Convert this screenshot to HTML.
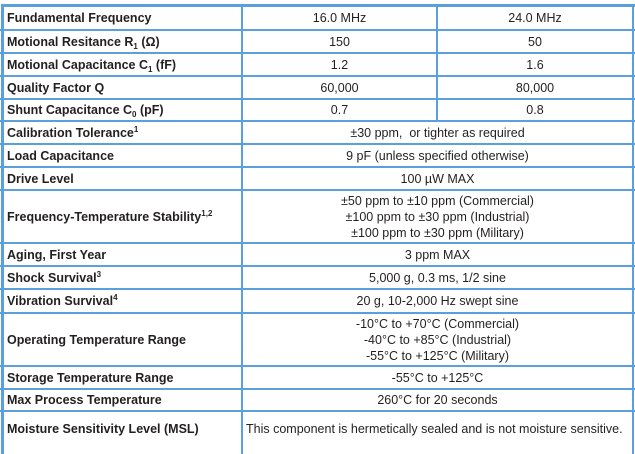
<!DOCTYPE html>
<html><head><meta charset="utf-8"><style>
body{margin:0;width:635px;height:446px;background:#fff;overflow:hidden;position:relative;font-family:"Liberation Sans",Arial,sans-serif;color:#231f20}
.h{position:absolute;left:0;width:635px;height:1px;background:#5aa0dc}
.v{position:absolute;top:4px;height:450px;width:2px;background:#5aa0dc}
.c{position:absolute;display:flex;align-items:center;font-size:12.5px;line-height:16px}
.l{left:7px;width:232px;font-weight:bold}
.m{justify-content:center;text-align:center}
sup{font-size:8px;vertical-align:5px;line-height:0}
sub{font-size:8px;vertical-align:-3px;line-height:0}
</style></head><body>
<div class="h" style="top:4px;height:3px;left:1px;width:634px"></div>
<div class="v" style="left:1px;width:3px"></div>
<div class="v" style="left:241px"></div>
<div class="v" style="left:436px;height:117px"></div>
<div class="v" style="left:632px"></div>
<div class="h" style="top:29px;height:2px"></div>
<div class="h" style="top:52px;height:2px"></div>
<div class="h" style="top:75px;height:2px"></div>
<div class="h" style="top:98px;height:2px"></div>
<div class="h" style="top:120px;height:2px"></div>
<div class="h" style="top:143px;height:2px"></div>
<div class="h" style="top:166px;height:2px"></div>
<div class="h" style="top:189px;height:2px"></div>
<div class="h" style="top:242px;height:2px"></div>
<div class="h" style="top:265px;height:2px"></div>
<div class="h" style="top:288px;height:2px"></div>
<div class="h" style="top:312px;height:2px"></div>
<div class="h" style="top:365px;height:2px"></div>
<div class="h" style="top:388px;height:2px"></div>
<div class="h" style="top:410px;height:2px"></div>

<div class="c l" style="top:7px;height:22px"><span>Fundamental Frequency</span></div>
<div class="c m" style="left:243px;width:193px;top:7px;height:22px">16.0 MHz</div>
<div class="c m" style="left:438px;width:194px;top:7px;height:22px">24.0 MHz</div>

<div class="c l" style="top:31px;height:21px"><span>Motional Resitance R<sub>1</sub> (Ω)</span></div>
<div class="c m" style="left:243px;width:193px;top:31px;height:21px">150</div>
<div class="c m" style="left:438px;width:194px;top:31px;height:21px">50</div>

<div class="c l" style="top:54px;height:21px"><span>Motional Capacitance C<sub>1</sub> (fF)</span></div>
<div class="c m" style="left:243px;width:193px;top:54px;height:21px">1.2</div>
<div class="c m" style="left:438px;width:194px;top:54px;height:21px">1.6</div>

<div class="c l" style="top:77px;height:21px"><span>Quality Factor Q</span></div>
<div class="c m" style="left:243px;width:193px;top:77px;height:21px">60,000</div>
<div class="c m" style="left:438px;width:194px;top:77px;height:21px">80,000</div>

<div class="c l" style="top:100px;height:20px"><span>Shunt Capacitance C<sub>0</sub> (pF)</span></div>
<div class="c m" style="left:243px;width:193px;top:100px;height:20px">0.7</div>
<div class="c m" style="left:438px;width:194px;top:100px;height:20px">0.8</div>

<div class="c l" style="top:122px;height:21px"><span>Calibration Tolerance<sup>1</sup></span></div>
<div class="c m" style="left:243px;width:389px;top:122px;height:21px">±30 ppm,&nbsp; or tighter as required</div>

<div class="c l" style="top:145px;height:21px"><span>Load Capacitance</span></div>
<div class="c m" style="left:243px;width:389px;top:145px;height:21px">9 pF (unless specified otherwise)</div>

<div class="c l" style="top:168px;height:21px"><span>Drive Level</span></div>
<div class="c m" style="left:243px;width:389px;top:168px;height:21px">100 µW MAX</div>

<div class="c l" style="top:191px;height:51px"><span>Frequency-Temperature Stability<sup>1,2</sup></span></div>
<div class="c m" style="left:243px;width:389px;top:191px;height:51px"><span>±50 ppm to ±10 ppm (Commercial)<br>±100 ppm to ±30 ppm (Industrial)<br>±100 ppm to ±30 ppm (Military)</span></div>

<div class="c l" style="top:244px;height:21px"><span>Aging, First Year</span></div>
<div class="c m" style="left:243px;width:389px;top:244px;height:21px">3 ppm MAX</div>

<div class="c l" style="top:267px;height:21px"><span>Shock Survival<sup>3</sup></span></div>
<div class="c m" style="left:243px;width:389px;top:267px;height:21px">5,000 g, 0.3 ms, 1/2 sine</div>

<div class="c l" style="top:290px;height:22px"><span>Vibration Survival<sup>4</sup></span></div>
<div class="c m" style="left:243px;width:389px;top:290px;height:22px">20 g, 10-2,000 Hz swept sine</div>

<div class="c l" style="top:314px;height:51px"><span>Operating Temperature Range</span></div>
<div class="c m" style="left:243px;width:389px;top:314px;height:51px"><span>-10°C to +70°C (Commercial)<br>-40°C to +85°C (Industrial)<br>-55°C to +125°C (Military)</span></div>

<div class="c l" style="top:367px;height:21px"><span>Storage Temperature Range</span></div>
<div class="c m" style="left:243px;width:389px;top:367px;height:21px">-55°C to +125°C</div>

<div class="c l" style="top:390px;height:20px"><span>Max Process Temperature</span></div>
<div class="c m" style="left:243px;width:389px;top:390px;height:20px">260°C for 20 seconds</div>

<div class="c l" style="top:412px;height:34px"><span>Moisture Sensitivity Level (MSL)</span></div>
<div class="c" style="left:246px;width:386px;top:412px;height:34px">This component is hermetically sealed and is not moisture sensitive.</div>
</body></html>
